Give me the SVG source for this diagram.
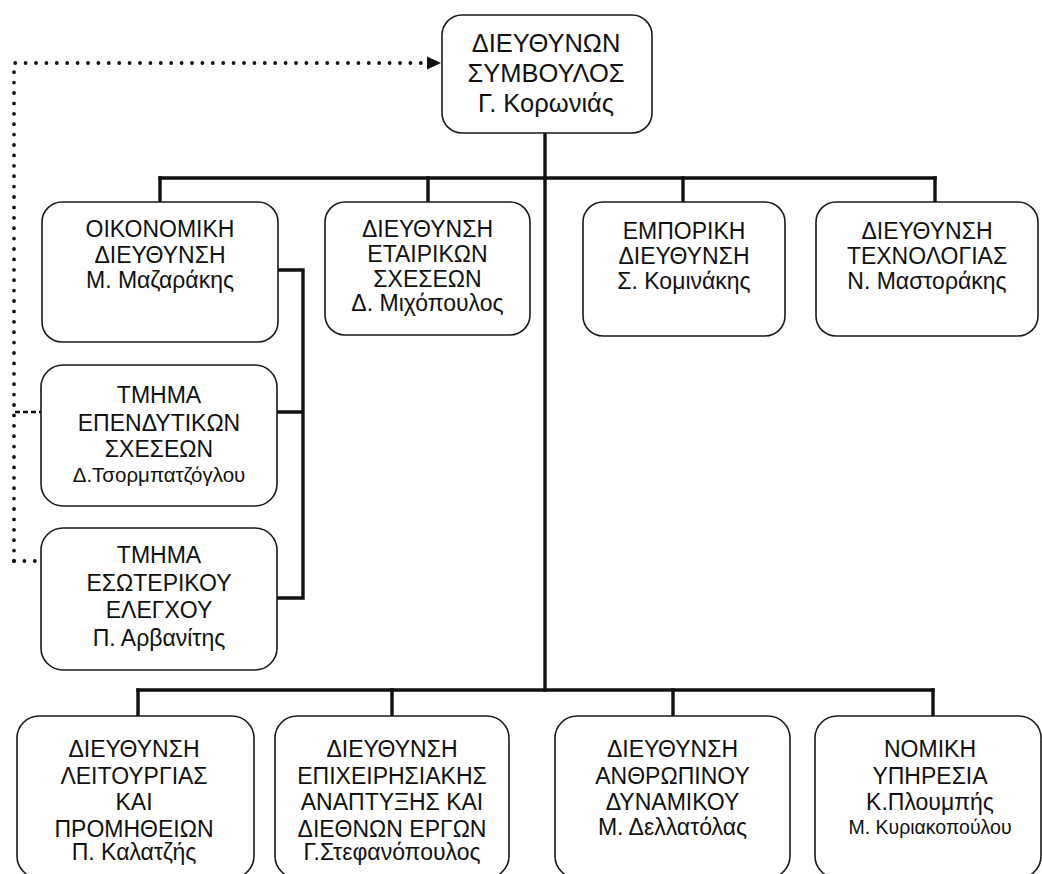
<svg xmlns="http://www.w3.org/2000/svg" width="1042" height="874" viewBox="0 0 1042 874">
  <defs>
    <style>
      .box { fill: #ffffff; stroke: #1a1a1a; stroke-width: 1.6; }
      .t { font-family: "Liberation Sans", Arial, sans-serif; font-size: 23px; fill: #111111; text-anchor: middle; }
      .big { font-size: 25.5px; }
      .s { font-size: 20.5px; }
      .link { fill: none; stroke: #111111; stroke-width: 3.4; stroke-linecap: square; }
      .dots { fill: none; stroke: #111111; stroke-width: 3.8; stroke-linecap: round; stroke-dasharray: 0 10.4; }
      .dash { fill: none; stroke: #111111; stroke-width: 2.4; stroke-dasharray: 5 3; }
    </style>
  </defs>

  <rect width="1042" height="874" fill="#ffffff"/>

  <!-- connectors -->
  <g id="connectors">
    <!-- trunk from the CEO down to the lower tier -->
    <path class="link" d="M545,133 V690"/>
    <!-- upper tier bus -->
    <path class="link" d="M160,178 H935"/>
    <path class="link" d="M160,178 V202 M428,178 V202 M683,178 V202 M935,178 V202"/>
    <!-- staff units bracket -->
    <path class="link" d="M278,270 H303 V598 H278 M278,412 H303"/>
    <!-- lower tier bus -->
    <path class="link" d="M138,690 H933"/>
    <path class="link" d="M138,690 V716 M392,690 V716 M673,690 V716 M933,690 V716"/>
    <!-- dotted reporting line into the CEO -->
    <path class="dots" d="M14,561 V63 H428"/>
    <path class="dots" d="M14,561 H40"/>
    <polygon points="427,56.5 441,63 427,69.5" fill="#111111"/>
    <path class="dash" d="M15,412 H42"/>
  </g>

  <!-- nodes -->
  <g id="ceo">
    <rect class="box" x="442" y="15" width="210" height="118" rx="20"/>
    <text class="t big" x="546" y="52">ΔΙΕΥΘΥΝΩΝ</text>
    <text class="t big" x="546" y="82">ΣΥΜΒΟΥΛΟΣ</text>
    <text class="t big" x="546" y="112">Γ. Κορωνιάς</text>
  </g>

  <g id="finance">
    <rect class="box" x="42" y="202" width="236" height="140" rx="20"/>
    <text class="t" x="160" y="237">ΟΙΚΟΝΟΜΙΚΗ</text>
    <text class="t" x="160" y="263">ΔΙΕΥΘΥΝΣΗ</text>
    <text class="t" x="160" y="288">Μ. Μαζαράκης</text>
  </g>

  <g id="corporate">
    <rect class="box" x="325" y="202" width="205" height="133" rx="20"/>
    <text class="t" x="427.5" y="237">ΔΙΕΥΘΥΝΣΗ</text>
    <text class="t" x="427.5" y="262">ΕΤΑΙΡΙΚΩΝ</text>
    <text class="t" x="427.5" y="287">ΣΧΕΣΕΩΝ</text>
    <text class="t" x="427.5" y="311">Δ. Μιχόπουλος</text>
  </g>

  <g id="commercial">
    <rect class="box" x="583" y="202" width="202" height="134" rx="20"/>
    <text class="t" x="684" y="239">ΕΜΠΟΡΙΚΗ</text>
    <text class="t" x="684" y="264">ΔΙΕΥΘΥΝΣΗ</text>
    <text class="t" x="684" y="289">Σ. Κομινάκης</text>
  </g>

  <g id="technology">
    <rect class="box" x="816" y="202" width="222" height="134" rx="20"/>
    <text class="t" x="927" y="239">ΔΙΕΥΘΥΝΣΗ</text>
    <text class="t" x="927" y="264">ΤΕΧΝΟΛΟΓΙΑΣ</text>
    <text class="t" x="927" y="289">Ν. Μαστοράκης</text>
  </g>

  <g id="investor">
    <rect class="box" x="41" y="365" width="236" height="141" rx="22"/>
    <text class="t" x="159" y="403">ΤΜΗΜΑ</text>
    <text class="t" x="159" y="431">ΕΠΕΝΔΥΤΙΚΩΝ</text>
    <text class="t" x="159" y="457">ΣΧΕΣΕΩΝ</text>
    <text class="t s" x="159" y="482">Δ.Τσορμπατζόγλου</text>
  </g>

  <g id="audit">
    <rect class="box" x="41" y="528" width="236" height="142" rx="22"/>
    <text class="t" x="159" y="563">ΤΜΗΜΑ</text>
    <text class="t" x="159" y="591">ΕΣΩΤΕΡΙΚΟΥ</text>
    <text class="t" x="159" y="618">ΕΛΕΓΧΟΥ</text>
    <text class="t" x="159" y="646">Π. Αρβανίτης</text>
  </g>

  <g id="operations">
    <rect class="box" x="17" y="716" width="237" height="162" rx="22"/>
    <text class="t" x="134" y="757">ΔΙΕΥΘΥΝΣΗ</text>
    <text class="t" x="134" y="783.5">ΛΕΙΤΟΥΡΓΙΑΣ</text>
    <text class="t" x="134" y="810">ΚΑΙ</text>
    <text class="t" x="134" y="836.5">ΠΡΟΜΗΘΕΙΩΝ</text>
    <text class="t" x="134" y="860">Π. Καλατζής</text>
  </g>

  <g id="development">
    <rect class="box" x="275" y="716" width="234" height="162" rx="22"/>
    <text class="t" x="392" y="757">ΔΙΕΥΘΥΝΣΗ</text>
    <text class="t" x="392" y="783.5">ΕΠΙΧΕΙΡΗΣΙΑΚΗΣ</text>
    <text class="t" x="392" y="810">ΑΝΑΠΤΥΞΗΣ ΚΑΙ</text>
    <text class="t" x="392" y="836.5">ΔΙΕΘΝΩΝ ΕΡΓΩΝ</text>
    <text class="t" x="392" y="860">Γ.Στεφανόπουλος</text>
  </g>

  <g id="hr">
    <rect class="box" x="555" y="716" width="235" height="162" rx="22"/>
    <text class="t" x="672.5" y="757">ΔΙΕΥΘΥΝΣΗ</text>
    <text class="t" x="672.5" y="783.5">ΑΝΘΡΩΠΙΝΟΥ</text>
    <text class="t" x="672.5" y="810">ΔΥΝΑΜΙΚΟΥ</text>
    <text class="t" x="672.5" y="835">Μ. Δελλατόλας</text>
  </g>

  <g id="legal">
    <rect class="box" x="815" y="716" width="226" height="162" rx="22"/>
    <text class="t" x="930" y="757">ΝΟΜΙΚΗ</text>
    <text class="t" x="930" y="783.5">ΥΠΗΡΕΣΙΑ</text>
    <text class="t" x="930" y="810">Κ.Πλουμπής</text>
    <text class="t s" x="930" y="833.5" style="font-size:19.5px">Μ. Κυριακοπούλου</text>
  </g>
</svg>
